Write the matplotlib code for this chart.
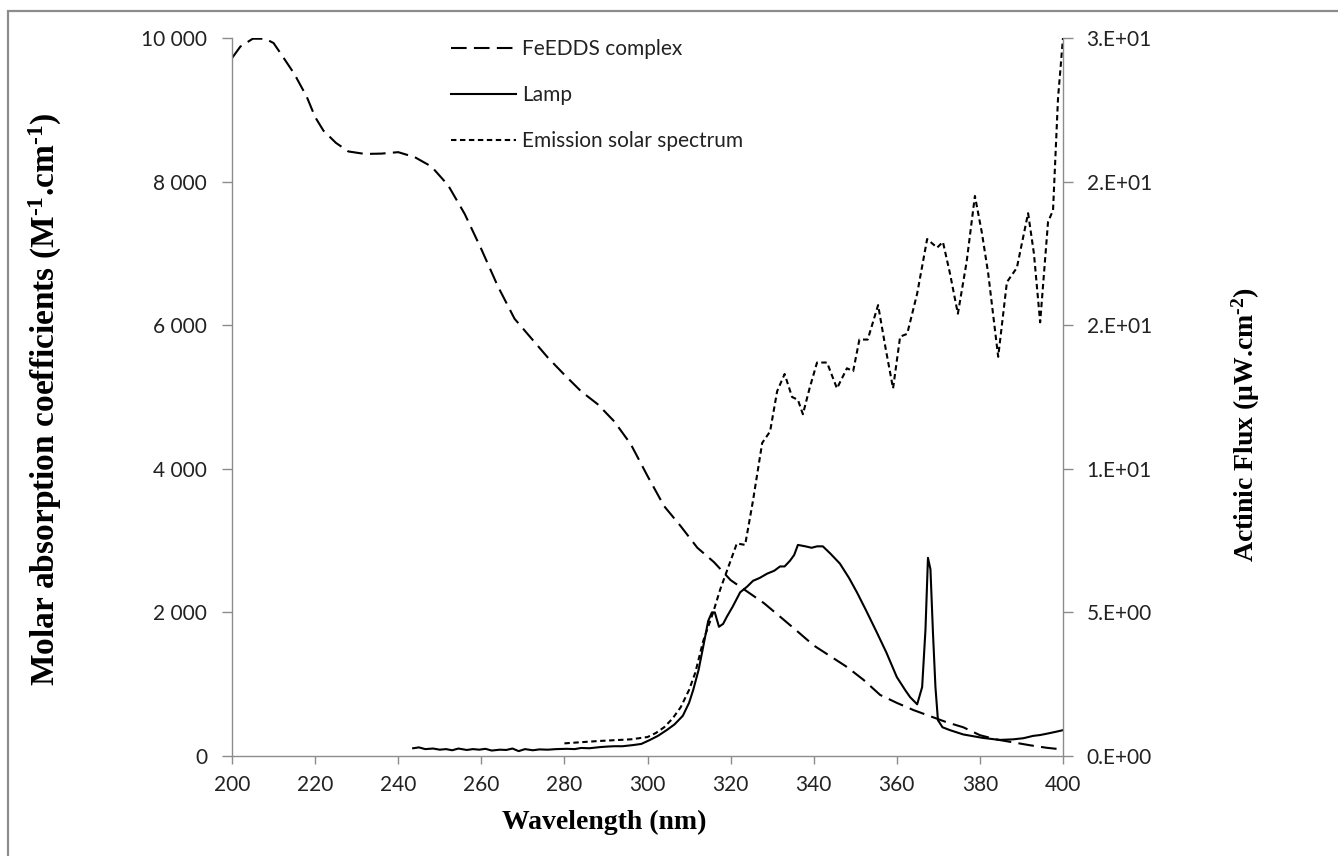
import matplotlib
matplotlib.use("Agg")
import matplotlib.pyplot as plt
from matplotlib.patches import Rectangle
from matplotlib.ticker import FuncFormatter
import math

# ---------------- data ----------------
feedds_nm = [200, 202, 205, 208, 210, 212, 215, 218, 220, 222, 225, 228, 232, 236, 240,
             244, 248, 252, 256, 260, 264, 268, 272, 276, 280, 284, 288, 292, 296, 300,
             304, 308, 312, 316, 320, 324, 328, 332, 336, 340, 344, 348, 352, 356, 360,
             364, 368, 372, 376, 380, 384, 388, 392, 396, 400]
feedds_eps = [9720, 9880, 9990, 9990, 9930, 9760, 9500, 9180, 8900, 8710, 8540, 8420, 8385, 8390, 8410,
              8340, 8210, 7950, 7550, 7060, 6540, 6090, 5820, 5550, 5310, 5080, 4900, 4660, 4340, 3900,
              3480, 3200, 2900, 2700, 2450, 2290, 2130, 1936, 1740, 1540, 1390, 1240, 1060, 850, 740,
              640, 555, 470, 400, 290, 230, 190, 150, 115, 90]

lamp_nm = [243.6, 245, 246.5, 248.4, 250, 251.5, 253, 254.5, 256.5, 258, 259.5, 261, 262.5, 264.5,
           266, 267.5, 269, 270.5, 272.4, 274, 276, 278, 280.6, 282.5, 284, 286, 288.6, 290.5, 292,
           294, 296.5, 298.5, 300.6, 302.5, 304.7, 306.5, 308.5, 310, 311, 312.3, 313.4, 314.6,
           315.5, 316.2, 317.2, 318.2, 319.1, 320.5, 322.3, 324, 325.4, 327, 328.8, 330.5, 331.9,
           333, 334.3, 335.3, 336.2, 338, 339.5, 340.8, 342.2, 344, 346.3, 348.5, 350.4, 352.5,
           355.2, 357.5, 360, 362, 363.2, 364.9, 366.1, 366.9, 367.5, 368.1, 368.7, 369.3, 369.9,
           371, 372.8, 376, 380.7, 384.8, 388, 390.5, 392.8, 394.5, 396.9, 398.5, 400]
lamp_flux = [0.27, 0.30, 0.24, 0.26, 0.22, 0.24, 0.20, 0.26, 0.21, 0.24, 0.22, 0.25, 0.19, 0.22,
             0.21, 0.26, 0.17, 0.24, 0.20, 0.23, 0.22, 0.24, 0.25, 0.24, 0.28, 0.27, 0.31, 0.33, 0.34,
             0.34, 0.38, 0.42, 0.56, 0.70, 0.91, 1.10, 1.40, 1.85, 2.30, 3.00, 3.80, 4.70,
             5.00, 5.00, 4.50, 4.60, 4.85, 5.20, 5.70, 5.90, 6.10, 6.20, 6.35, 6.45, 6.60,
             6.60, 6.80, 7.00, 7.35, 7.30, 7.25, 7.30, 7.30, 7.05, 6.70, 6.20, 5.70, 5.10,
             4.30, 3.60, 2.75, 2.30, 2.05, 1.80, 2.40, 4.40, 6.90, 6.50, 4.30, 2.40, 1.25,
             1.00, 0.90, 0.75, 0.63, 0.56, 0.58, 0.62, 0.70, 0.73, 0.80, 0.85, 0.90]

solar_nm = [280, 284, 288, 292, 296, 300, 302, 304, 306, 308, 310, 311.5, 313.4, 315.8, 317.5,
            319, 321.5, 323.5, 325.4, 327.6, 329.5, 331.2, 333, 334.8, 336.2, 337.4, 339, 340.8,
            343.2, 345.6, 348, 349.5, 351, 353, 355.5, 357.3, 359.1, 360.8, 362.5, 364.9, 367.3,
            369.7, 371.1, 372.8, 374.7, 376.8, 378.8, 380.5, 382, 384.4, 386.5, 388.9, 391.6, 393,
            394.5, 396.4, 397.6, 398.8, 400]
solar_flux = [0.44, 0.48, 0.52, 0.55, 0.58, 0.66, 0.80, 1.00, 1.30, 1.70, 2.30, 2.90, 4.00, 5.00, 5.80,
              6.40, 7.40, 7.35, 8.90, 10.90, 11.30, 12.70, 13.30, 12.50, 12.40, 11.90, 12.80, 13.70,
              13.70, 12.80, 13.50, 13.40, 14.50, 14.50, 15.70, 14.20, 12.80, 14.60, 14.70, 16.10, 18.00,
              17.70, 17.90, 16.80, 15.40, 17.20, 19.50, 18.20, 16.80, 13.90, 16.50, 17.00, 18.90, 17.50,
              15.10, 18.60, 19.00, 22.90, 25.00]

x_ticks = [200, 220, 240, 260, 280, 300, 320, 340, 360, 380, 400]
left_ticks = [0, 2000, 4000, 6000, 8000, 10000]
right_ticks = [0, 5, 10, 15, 20, 25]

legend_labels = ["FeEDDS complex", "Lamp", "Emission solar spectrum"]

# ---------------- figure ----------------
plt.rcParams["mathtext.fontset"] = "custom"
plt.rcParams["mathtext.rm"] = "Liberation Serif:bold"
plt.rcParams["mathtext.bf"] = "Liberation Serif:bold"
plt.rcParams["mathtext.it"] = "Liberation Serif:bold"

W, H = 1338, 856
fig = plt.figure(figsize=(W / 100, H / 100), dpi=100)
ax_w = 1063 - 232
ax_h = 756 - 38
ax = fig.add_axes([232 / W, 1 - 756 / H, ax_w / W, ax_h / H])
ax2 = ax.twinx()

tick_font = "Lato"
title_font = "Liberation Serif"
gray = "#8c8c8c"
txt = "#222222"

lw = 1.5
l1, = ax.plot(feedds_nm, feedds_eps, color="black", lw=lw, dashes=(7.5, 3.5))
l2, = ax2.plot(lamp_nm, lamp_flux, color="black", lw=lw)
l3, = ax2.plot(solar_nm, solar_flux, color="black", lw=lw, dashes=(2.6, 1.7))

ax.set_xlim(200, 400)
ax.set_ylim(0, 10000)
ax2.set_ylim(0, 25)
ax.set_xticks(x_ticks)
ax.set_yticks(left_ticks)
ax2.set_yticks(right_ticks)


def thousands(v, pos):
    return f"{int(round(v)):,}".replace(",", " ")


def excel_sci(v, pos):
    if v == 0:
        return "0.E+00"
    e = int(math.floor(math.log10(abs(v))))
    m = int(math.floor(v / 10 ** e + 0.5))
    if m >= 10:
        m //= 10
        e += 1
    return f"{m}.E{'+' if e >= 0 else '-'}{abs(e):02d}"


ax.yaxis.set_major_formatter(FuncFormatter(thousands))
ax2.yaxis.set_major_formatter(FuncFormatter(excel_sci))

for a in (ax, ax2):
    for s in a.spines.values():
        s.set_color(gray)
        s.set_linewidth(1.0)
    a.spines["top"].set_visible(False)
ax.spines["right"].set_visible(False)
ax2.spines["left"].set_visible(False)
ax2.spines["bottom"].set_visible(False)

ax.tick_params(axis="x", direction="out", length=6, width=1, color=gray, pad=8,
               labelsize=15, labelcolor=txt)
ax.tick_params(axis="y", direction="out", length=7, width=1, color=gray, pad=11,
               labelsize=15, labelcolor=txt)
ax2.tick_params(axis="y", direction="out", length=7, width=1, color=gray, pad=10,
                labelsize=15, labelcolor=txt)
for lab in ax.get_xticklabels() + ax.get_yticklabels() + ax2.get_yticklabels():
    lab.set_fontfamily(tick_font)

ax.set_xlabel("Wavelength (nm)", fontfamily=title_font, fontweight="bold", fontsize=20)
ax.xaxis.set_label_coords((604 - 232) / ax_w, -(810 - 756) / ax_h)
ax.set_ylabel(r"Molar absorption coefficients (M$^{\text{-}1}$.cm$^{\text{-}1}$)",
              fontfamily=title_font, fontweight="bold", fontsize=24)
ax.yaxis.set_label_coords(-(232 - 64) / ax_w, 0.497)
ax2.set_ylabel(r"Actinic Flux (μW.cm$^{\text{-}2}$)",
               fontfamily=title_font, fontweight="bold", fontsize=20)
ax2.yaxis.set_label_coords(1.0 + (1229 - 1063) / ax_w, 0.462)

leg = ax.legend([l1, l2, l3], legend_labels, loc="upper left",
                bbox_to_anchor=((451 - 232) / ax_w, 1 - (39 - 38) / ax_h),
                frameon=False, prop={"family": tick_font, "size": 15},
                borderpad=0, borderaxespad=0,
                handlelength=3.1, handletextpad=0.33, labelspacing=1.25)
for t in leg.get_texts():
    t.set_color(txt)

fig.patches.append(Rectangle((8 / W, -0.05), 1.2, 1.05 - 11 / H, transform=fig.transFigure,
                             fill=False, edgecolor=gray, linewidth=1.6, zorder=-1))

fig.savefig("out.png", dpi=100)
